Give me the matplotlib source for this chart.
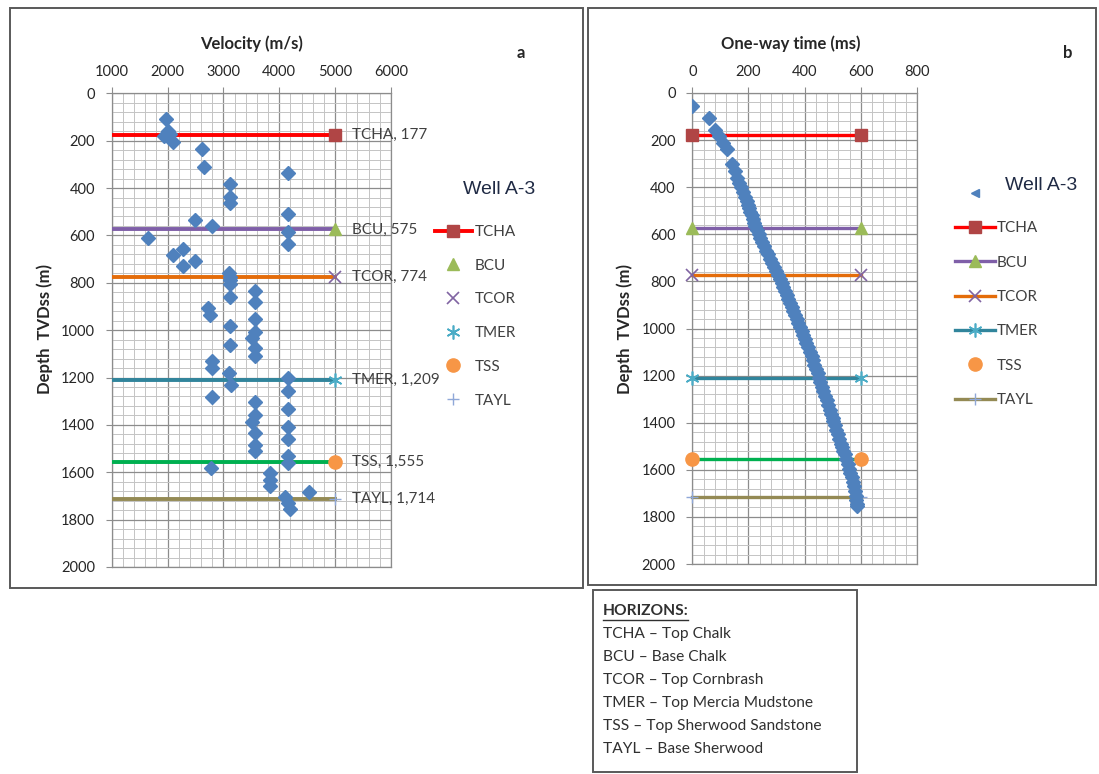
import numpy as np
import matplotlib.pyplot as plt
from matplotlib.lines import Line2D
from matplotlib.patches import Rectangle
from matplotlib.ticker import MultipleLocator

plt.rcParams['font.family'] = ['Lato', 'DejaVu Sans']

W, H = 1099, 774

# --- interval velocity samples, well A-3 ---
VEL_MS = [1970, 2000, 1930, 2040, 2095, 2615, 2655, 4165, 3120, 3120,
          3120, 2495, 2790, 4165, 4165, 4165, 1655, 2105, 2285, 2285,
          2495, 3100, 3120, 3110, 3120, 3120, 3570, 3570, 3570, 3570,
          3510, 3570, 3570, 2730, 2760, 3120, 3120, 2790, 2790, 3100,
          3130, 2790, 4165, 4165, 4165, 4165, 4165, 4165, 4165, 3570,
          3570, 3510, 3570, 3570, 3570, 2775, 3840, 3840, 3840, 4540,
          4105, 4165, 4195]
VEL_DEPTH = [110, 158, 180, 172, 205, 236, 312, 336, 384, 436,
             462, 535, 560, 511, 584, 637, 612, 682, 658, 731,
             706, 760, 775, 790, 805, 858, 833, 883, 954, 1006,
             1034, 1076, 1111, 907, 935, 982, 1062, 1132, 1160, 1181,
             1231, 1283, 1203, 1259, 1333, 1407, 1460, 1530, 1561, 1305,
             1357, 1386, 1435, 1484, 1512, 1582, 1603, 1631, 1660, 1685,
             1705, 1730, 1755]

# --- time-depth pairs (one-way time) ---
TD_DEPTH = [56, 105, 155, 183, 211, 239, 302, 331, 360, 383,
            400, 422, 440, 457, 475, 490, 506, 520, 535, 550,
            563, 580, 600, 615, 633, 650, 670, 685, 704, 720,
            740, 757, 774, 790, 808, 825, 840, 858, 875, 892,
            910, 927, 943, 960, 978, 995, 1012, 1027, 1045, 1062,
            1080, 1100, 1118, 1135, 1153, 1170, 1190, 1210, 1228, 1248,
            1266, 1285, 1305, 1325, 1345, 1365, 1380, 1392, 1410, 1430,
            1450, 1470, 1490, 1505, 1519, 1535, 1555, 1575, 1595, 1612,
            1632, 1650, 1670, 1690, 1710, 1728, 1744, 1752]
TD_TIME = [0, 61, 81, 96, 108, 122, 140, 152, 160, 167,
           173, 182, 188, 194, 199, 202, 205, 212, 216, 220,
           223, 229, 236, 241, 247, 254, 263, 269, 277, 283,
           291, 299, 306, 312, 318, 324, 330, 336, 342, 348,
           354, 360, 365, 371, 377, 383, 389, 395, 400, 406,
           412, 419, 425, 430, 434, 440, 446, 452, 456, 461,
           466, 472, 478, 484, 490, 495, 500, 502, 507, 513,
           519, 524, 529, 533, 537, 542, 548, 553, 558, 562,
           567, 571, 575, 579, 582, 584, 585, 588]

# --- horizon tops ---
HORIZONS = ['TCHA', 'BCU', 'TCOR', 'TMER', 'TSS', 'TAYL']
HORIZON_DEPTH = [177, 575, 774, 1209, 1555, 1714]
HORIZON_NAMES = ['Top Chalk', 'Base Chalk', 'Top Cornbrash',
                 'Top Mercia Mudstone', 'Top Sherwood Sandstone', 'Base Sherwood']
VEL_LINE_X = [1000, 5000]
TIME_LINE_X = [0, 600]

LINE_COLORS = ['#FF0000', '#7F5FA8', '#E46C0A', '#31859C', '#00B050', '#948A54']
MARKER_STYLE = [dict(marker='s', ms=8.5, mfc='#B04545', mec='#B04545'),
                dict(marker='^', ms=9, mfc='#9BBB59', mec='#9BBB59'),
                dict(marker='x', ms=8.5, mew=1.2, mec='#8064A2'),
                dict(marker=(6, 2, 0), ms=10, mew=1.2, mec='#4BACC6'),
                dict(marker='o', ms=9.5, mfc='#F79646', mec='#F79646'),
                dict(marker='+', ms=9, mew=1.0, mec='#8FA8D8')]
DOT_BLUE = '#4F81BD'
TXT = '#262626'
FS = 11


def px_x(x):
    return x / W


def px_y(y):
    return 1 - y / H


def style_axes(ax, xmajor, ymajor=200):
    ax.set_ylim(2000, 0)
    ax.xaxis.set_major_locator(MultipleLocator(xmajor))
    ax.xaxis.set_minor_locator(MultipleLocator(xmajor / 5))
    ax.yaxis.set_major_locator(MultipleLocator(ymajor))
    ax.yaxis.set_minor_locator(MultipleLocator(ymajor / 5))
    ax.grid(which='major', color='#8c8c8c', lw=0.9)
    ax.grid(which='minor', color='#c4c4c4', lw=0.7)
    ax.set_axisbelow(True)
    ax.xaxis.tick_top()
    ax.tick_params(which='minor', length=0)
    ax.tick_params(which='major', length=4, color='#8c8c8c', labelsize=10.5, labelcolor=TXT)
    ax.tick_params(axis='x', pad=6)
    ax.tick_params(axis='y', pad=8)
    for s in ax.spines.values():
        s.set_color('#8c8c8c')
        s.set_linewidth(0.9)


fig = plt.figure(figsize=(W / 100, H / 100), dpi=100)

# ---------- panel a : velocity ----------
ax_a = fig.add_axes([px_x(111.7), px_y(567), (391 - 111.7) / W, (567 - 93.3) / H])
ax_a.set_xlim(1000, 6000)
style_axes(ax_a, 1000)

for i, name in enumerate(HORIZONS):
    d = HORIZON_DEPTH[i]
    ax_a.plot(VEL_LINE_X, [d, d], color=LINE_COLORS[i], lw=2.8, markevery=[1],
              zorder=3, **MARKER_STYLE[i])
    ax_a.text(5300, d, f'{name}, {d:,}', va='center', ha='left', fontsize=FS,
              color='#404040', zorder=5)

ax_a.plot(VEL_MS, VEL_DEPTH, ls='none', marker='D', ms=7.5, color=DOT_BLUE, zorder=4)

handles_a = [Line2D([], [], color=LINE_COLORS[0], lw=2.8, **MARKER_STYLE[0])]
handles_a += [Line2D([], [], ls='none', **MARKER_STYLE[i]) for i in range(1, 6)]
fig.legend(handles_a, HORIZONS, loc='upper left', bbox_to_anchor=(px_x(435), px_y(225)),
           bbox_transform=fig.transFigure, frameon=False, fontsize=FS, borderpad=0,
           borderaxespad=0, handlelength=2.4, handletextpad=0.2, labelspacing=1.29,
           labelcolor='#404040')
fig.text(px_x(463), px_y(189), 'Well A-3', fontsize=14, family='Liberation Sans',
         color='#1f2a44', va='center', ha='left')

fig.text(px_x(252), px_y(44), 'Velocity (m/s)', fontsize=12, weight='bold', color=TXT,
         ha='center', va='center')
fig.text(px_x(45), px_y(329), 'Depth  TVDss (m)', fontsize=12, weight='bold', color=TXT,
         ha='center', va='center', rotation=90)
fig.text(px_x(521), px_y(53), 'a', fontsize=12, weight='bold', color=TXT,
         ha='center', va='center')

# ---------- panel b : one-way time ----------
ax_b = fig.add_axes([px_x(692.3), px_y(564), (917 - 692.3) / W, (564 - 93) / H])
ax_b.set_xlim(0, 800)
style_axes(ax_b, 200)

for i, name in enumerate(HORIZONS):
    d = HORIZON_DEPTH[i]
    ax_b.plot(TIME_LINE_X, [d, d], color=LINE_COLORS[i], lw=2.4, zorder=3,
              clip_on=False, **MARKER_STYLE[i])

ax_b.plot(TD_TIME, TD_DEPTH, ls='none', marker='D', ms=7.5, color=DOT_BLUE, zorder=4)

handles_b = [Line2D([], [], ls='none', marker='<', ms=6, color=DOT_BLUE)]
for i in range(6):
    if HORIZONS[i] == 'TSS':
        handles_b.append(Line2D([], [], ls='none', **MARKER_STYLE[i]))
    else:
        handles_b.append(Line2D([], [], color=LINE_COLORS[i], lw=2.4, **MARKER_STYLE[i]))
fig.legend(handles_b, [' '] + HORIZONS, loc='upper left', bbox_to_anchor=(px_x(955), px_y(187)),
           bbox_transform=fig.transFigure, frameon=False, fontsize=FS, borderpad=0,
           borderaxespad=0, handlelength=2.6, handletextpad=0.13, labelspacing=1.33,
           labelcolor='#404040')
fig.text(px_x(1005), px_y(185), 'Well A-3', fontsize=14, family='Liberation Sans',
         color='#1f2a44', va='center', ha='left')

fig.text(px_x(791), px_y(44), 'One-way time (ms)', fontsize=12, weight='bold', color=TXT,
         ha='center', va='center')
fig.text(px_x(625), px_y(329), 'Depth  TVDss (m)', fontsize=12, weight='bold', color=TXT,
         ha='center', va='center', rotation=90)
fig.text(px_x(1068), px_y(53), 'b', fontsize=12, weight='bold', color=TXT,
         ha='center', va='center')

# ---------- frames ----------
for x0, y0, x1, y1 in [(10, 8, 583, 588), (588, 8, 1096, 585), (593, 590, 857, 772)]:
    fig.add_artist(Rectangle((px_x(x0), px_y(y1)), (x1 - x0) / W, (y1 - y0) / H,
                             transform=fig.transFigure, fill=False,
                             edgecolor='#595959', lw=1.4))

# ---------- horizon key ----------
fig.text(px_x(603), px_y(611), 'HORIZONS:', fontsize=11.2, weight='bold', color='#303030',
         va='center', ha='left')
fig.add_artist(Line2D([px_x(603), px_x(688)], [px_y(620), px_y(620)],
                      transform=fig.transFigure, color='#303030', lw=1.0))
for k, (abbr, full) in enumerate(zip(HORIZONS, HORIZON_NAMES)):
    fig.text(px_x(603), px_y(634 + 23 * k), f'{abbr} \u2013 {full}', fontsize=11.2,
             color='#303030', va='center', ha='left')

fig.savefig('out.png', dpi=100)
